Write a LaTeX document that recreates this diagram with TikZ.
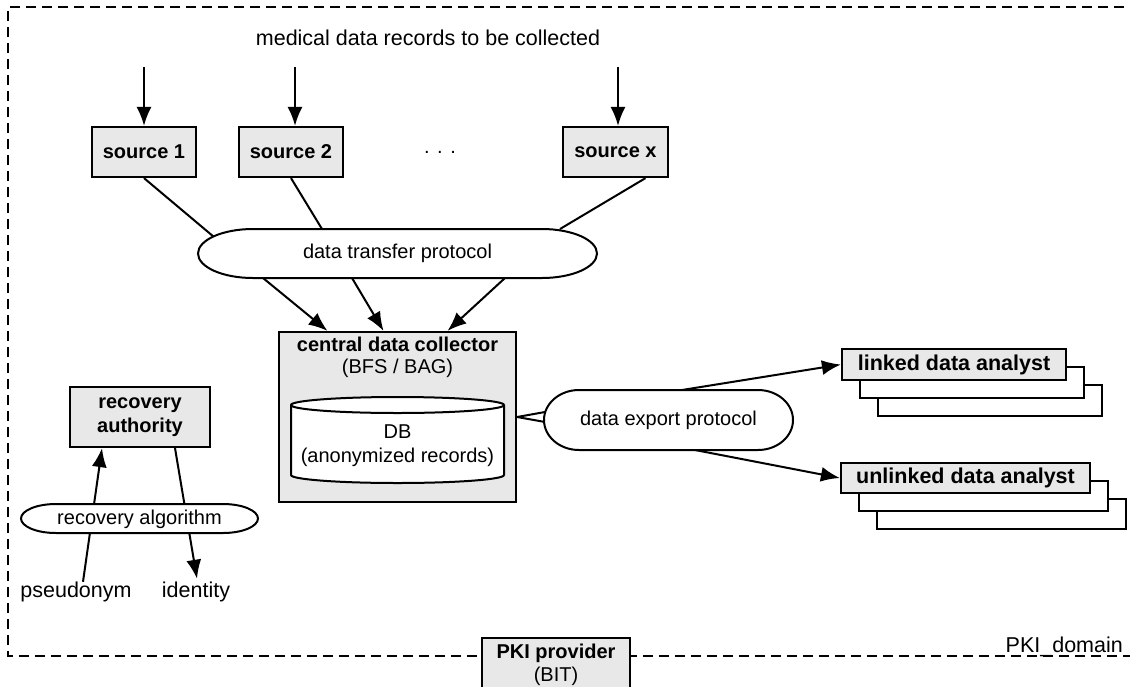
\documentclass[tikz,border=0pt]{standalone}
\usepackage{fontspec}
\setmainfont{Liberation Sans}
\usetikzlibrary{arrows.meta,calc}
\definecolor{boxgray}{HTML}{E8E8E8}
\newcommand\myfA{\fontsize{20}{24}\selectfont}
\newcommand\myfB{\fontsize{21.5}{24}\selectfont}
\tikzset{
  lbl/.style={inner sep=0pt, align=center, font=\myfA},
  lblbig/.style={inner sep=0pt, align=center, font=\myfB},
  graybox/.style={draw, line width=2.2pt, fill=boxgray, inner sep=0pt, align=center, font=\myfA\bfseries},
  whitebox/.style={draw, line width=2.2pt, fill=white, inner sep=0pt},
  ell/.style={draw, line width=2pt, fill=white},
  conn/.style={line width=2pt},
  arr/.style={line width=2pt, -{Latex[length=19pt,width=15pt]}},
  border/.style={line width=2.2pt, dash pattern=on 10pt off 6pt}
}
\begin{document}
\begin{tikzpicture}[x=1pt,y=-1pt]
\useasboundingbox (0,0) rectangle (1130,686);
\fill[white] (0,0) rectangle (1130,686);

% domain border
\draw[border] (1140,7) -- (8,7) -- (8,656) -- (1140,656);
\node[lblbig, anchor=base east] (dom) at (1123,652) {PKI\_domain};

% title and inputs
\node[lblbig] (title) at (428,38) {medical data records to be collected};
\coordinate (in1) at (144,67);
\coordinate (in2) at (295,67);
\coordinate (inx) at (618,67);

% sources
\node[graybox, minimum width=104pt, minimum height=50pt] (s1) at (144,152) {source 1};
\node[graybox, minimum width=104pt, minimum height=50pt] (s2) at (291,152) {source 2};
\node[graybox, minimum width=105pt, minimum height=50pt] (sx) at (615.5,152) {source x};
\node[lbl] (dots) at (440,152) {.\hspace{7.5pt}.\hspace{7.5pt}.};

\draw[arr] (in1) -- (in1 |- s1.north);
\draw[arr] (in2) -- (in2 |- s2.north);
\draw[arr] (inx) -- (inx |- sx.north);

% data transfer protocol
\coordinate (t1) at (214,237);
\coordinate (t2) at (322,229);
\coordinate (t3) at (560,229);
\coordinate (t4) at (263,278);
\coordinate (t5) at (352,278);
\coordinate (t6) at (505,278);
\draw[conn] (s1.south) -- (t1);
\draw[conn] (s2.south) -- (t2);
\draw[conn] ($(sx.south)+(30,0)$) -- (t3);
\draw[ell] (253,229) -- (542,229) arc[start angle=-90, end angle=90, x radius=55, y radius=24.5]
  -- (253,278) arc[start angle=90, end angle=270, x radius=55, y radius=24.5] -- cycle;
\node[lbl] (dtp) at (397.5,253.5) {data transfer protocol};

% central data collector
\node[graybox, minimum width=237pt, minimum height=170pt] (coll) at (397.5,417) {};
\node[lbl, font=\fontsize{20}{22}\selectfont] (collt) at (397.5,357) {\textbf{central data collector}\\(BFS / BAG)};
\draw[arr] (t4) -- ($(coll.north)+(-70,0)$);
\draw[arr] (t5) -- ($(coll.north)+(-14,0)$);
\draw[arr] (t6) -- ($(coll.north)+(50,0)$);

% DB cylinder
\draw[line width=2pt, fill=white] (291,405) -- (291,475) arc[start angle=180, end angle=0, x radius=106.5, y radius=8]
  -- (504,405) arc[start angle=0, end angle=-180, x radius=106.5, y radius=8] -- cycle;
\draw[line width=2pt] (291,405) arc[start angle=180, end angle=0, x radius=106.5, y radius=8];
\node[lbl] (db) at (397.5,446) {DB\\(anonymized records)};

% data export protocol
\coordinate (e1) at (545,412);
\coordinate (e2) at (545,422);
\draw[conn] (coll.east) -- (e1);
\draw[conn] (coll.east) -- (e2);
\draw[ell] (579,390) -- (758,390) arc[start angle=-90, end angle=90, x radius=35, y radius=30]
  -- (579,450) arc[start angle=90, end angle=270, x radius=35, y radius=30] -- cycle;
\node[lbl] (dep) at (668.5,420) {data export protocol};

% analysts
\node[whitebox, minimum width=224pt, minimum height=31pt] (lin3) at (990,400.5) {};
\node[whitebox, minimum width=224pt, minimum height=31pt] (lin2) at (972,382.5) {};
\node[graybox, minimum width=224pt, minimum height=31pt, font=\myfB\bfseries] (lin) at (954,364.5) {linked data analyst};
\node[whitebox, minimum width=249pt, minimum height=30pt] (unl3) at (1001.5,514) {};
\node[whitebox, minimum width=249pt, minimum height=30pt] (unl2) at (983.5,496) {};
\node[graybox, minimum width=249pt, minimum height=30pt, font=\myfB\bfseries] (unl) at (965.5,478) {unlinked data analyst};
\coordinate (x1) at (682,390);
\coordinate (x2) at (695,450);
\draw[arr] (x1) -- (lin.west);
\draw[arr] (x2) -- (unl.west);

% recovery
\node[graybox, minimum width=140pt, minimum height=60pt, font=\fontsize{20}{24}\selectfont\bfseries] (rec) at (140,417) {recovery\\authority};
\node[lblbig] (pseu) at (76,592) {pseudonym};
\node[lblbig] (ident) at (196,592) {identity};
\draw[arr] ($(pseu.north)+(7,0)$) -- ($(rec.south)+(-38,0)$);
\draw[arr] ($(rec.south)+(35,0)$) -- ($(ident.north)+(1,-3)$);
\draw[ell] (56,504) -- (223,504) arc[start angle=-90, end angle=90, x radius=35, y radius=14.5]
  -- (56,533) arc[start angle=90, end angle=270, x radius=35, y radius=14.5] -- cycle;
\node[lbl] (ralg) at (139.5,519) {recovery algorithm};

% PKI provider
\node[graybox, minimum width=148pt, minimum height=54pt, anchor=north, font=\fontsize{20}{23}\selectfont] (pki) at (556,637) {\textbf{PKI provider}\\(BIT)};
\end{tikzpicture}
\end{document}
